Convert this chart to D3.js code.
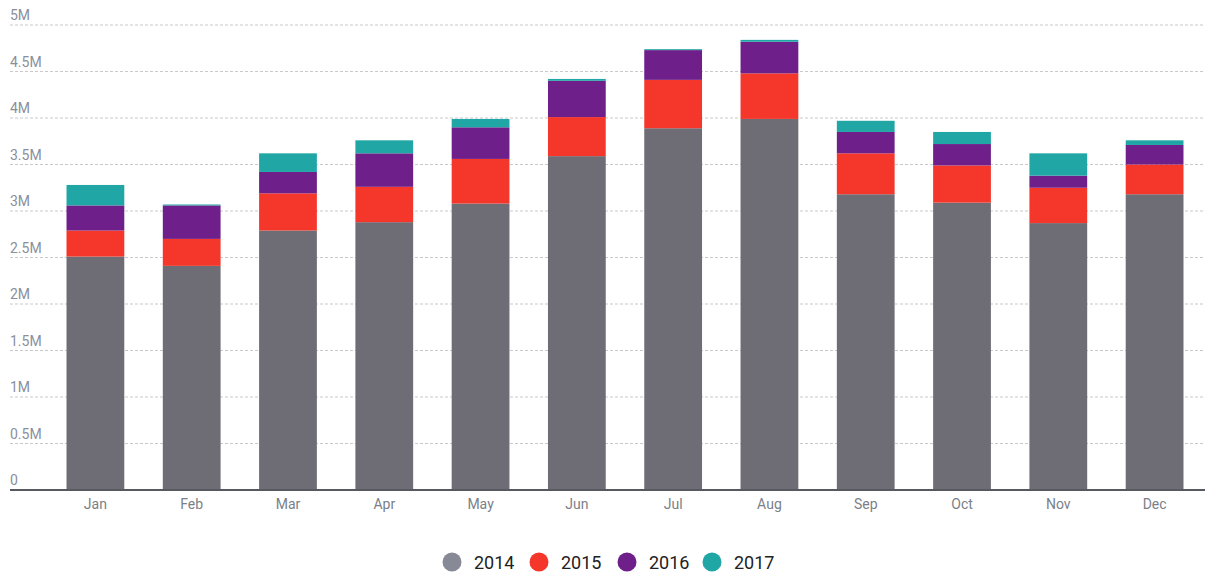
<!DOCTYPE html>
<html>
<head>
<meta charset="utf-8">
<script src="https://cdn.jsdelivr.net/npm/d3@7"></script>
<style>
  html, body { margin: 0; padding: 0; background: #fff; }
  svg { display: block; }
</style>
</head>
<body>
<svg id="chart" width="1205" height="572"></svg>
<script>
const months = ["Jan","Feb","Mar","Apr","May","Jun","Jul","Aug","Sep","Oct","Nov","Dec"];
const seriesNames = ["2014","2015","2016","2017"];
const v2014 = [2.51, 2.41, 2.79, 2.88, 3.08, 3.59, 3.89, 3.99, 3.18, 3.09, 2.87, 3.18];
const v2015 = [0.28, 0.29, 0.40, 0.38, 0.48, 0.42, 0.52, 0.49, 0.44, 0.40, 0.38, 0.32];
const v2016 = [0.27, 0.36, 0.23, 0.36, 0.34, 0.39, 0.32, 0.34, 0.23, 0.23, 0.13, 0.21];
const v2017 = [0.22, 0.01, 0.20, 0.14, 0.09, 0.02, 0.01, 0.02, 0.12, 0.13, 0.24, 0.05];
const yTicks = [0, 0.5, 1, 1.5, 2, 2.5, 3, 3.5, 4, 4.5, 5];
const colors = ["#6e6d76", "#f4362b", "#6e1f8a", "#21a6a6"];

const data = months.map((m, i) => ({
  month: m,
  "2014": v2014[i] * 1e6,
  "2015": v2015[i] * 1e6,
  "2016": v2016[i] * 1e6,
  "2017": v2017[i] * 1e6
}));

const svg = d3.select("#chart");
const x = d3.scaleBand().domain(months).range([28, 1222]).paddingInner(0.4).paddingOuter(0.4);
const y = d3.scaleLinear().domain([0, 5e6]).range([490, 25]);
const color = d3.scaleOrdinal().domain(seriesNames).range(colors);

const fmt = v => v === 0 ? "0" : (v / 1e6) + "M";

// gridlines + y labels
const grid = svg.append("g");
yTicks.forEach(t => {
  const yy = y(t * 1e6);
  if (t > 0) {
    grid.append("line")
      .attr("x1", 10).attr("x2", 1205)
      .attr("y1", yy).attr("y2", yy)
      .attr("stroke", "#c9c9c9").attr("stroke-width", 1)
      .attr("stroke-dasharray", "3,2");
  }
  grid.append("text")
    .attr("x", 10).attr("y", yy - 5)
    .attr("font-family", "Roboto, sans-serif")
    .attr("font-size", 14)
    .attr("fill", "#8a8f9c")
    .text(fmt(t * 1e6));
});

// stacked bars
const stack = d3.stack().keys(seriesNames)(data);
svg.append("g").selectAll("g")
  .data(stack).join("g")
  .attr("fill", d => color(d.key))
  .selectAll("rect")
  .data(d => d).join("rect")
  .attr("x", d => x(d.data.month))
  .attr("width", x.bandwidth())
  .attr("y", d => y(d[1]))
  .attr("height", d => Math.max(0, y(d[0]) - y(d[1])));

// baseline axis
svg.append("line")
  .attr("x1", 10).attr("x2", 1205)
  .attr("y1", y(0)).attr("y2", y(0))
  .attr("stroke", "#555a60").attr("stroke-width", 2);

// x axis labels
const xAxis = d3.axisBottom(x).tickSize(0).tickPadding(0);
const xg = svg.append("g").attr("transform", `translate(0,${y(0)})`).call(xAxis);
xg.select(".domain").remove();
xg.selectAll("text")
  .attr("y", 9)
  .attr("font-family", "Roboto, sans-serif")
  .attr("font-size", 14)
  .attr("fill", "#7a7f88");

// legend
const legendX = [452, 539, 627, 712];
const leg = svg.append("g");
seriesNames.forEach((s, i) => {
  leg.append("circle")
    .attr("cx", legendX[i]).attr("cy", 562).attr("r", 9.5)
    .attr("fill", i === 0 ? "#878a96" : color(s));
  leg.append("text")
    .attr("x", legendX[i] + 22).attr("y", 568.5)
    .attr("font-family", "Roboto, sans-serif")
    .attr("font-size", 18)
    .attr("fill", "#222")
    .text(s);
});
</script>
</body>
</html>
